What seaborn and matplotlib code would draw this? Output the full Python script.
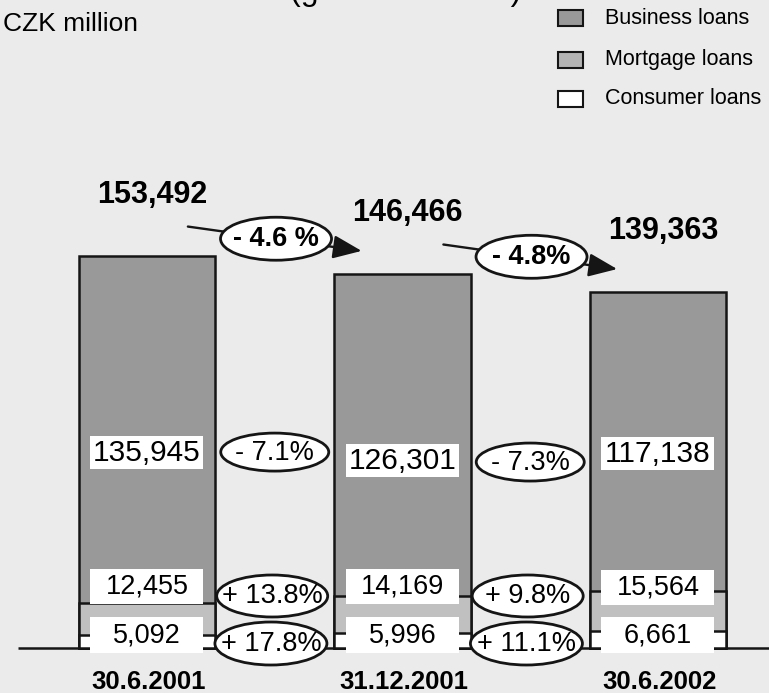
import matplotlib
matplotlib.use("Agg")
import matplotlib.pyplot as plt
from matplotlib.patches import Ellipse, Rectangle
import seaborn as sns

# Loan portfolio by segment, CZK million
dates = ["30.6.2001", "31.12.2001", "30.6.2002"]
business = [135945, 126301, 117138]
mortgage = [12455, 14169, 15564]
consumer = [5092, 5996, 6661]

# Period-on-period changes
total_change = ["- 4.6 %", "- 4.8%"]
business_change = ["- 7.1%", "- 7.3%"]
mortgage_change = ["+ 13.8%", "+ 9.8%"]
consumer_change = ["+ 17.8%", "+ 11.1%"]

series_names = ["Business loans", "Mortgage loans", "Consumer loans"]

totals = [b + m + c for b, m, c in zip(business, mortgage, consumer)]
lower_two = [m + c for m, c in zip(mortgage, consumer)]

BG = "#ebebeb"
EDGE = "#151515"
C_BUS = "#999999"
C_MORT = "#c0c0c0"
C_CONS = "#ffffff"

sns.set_style("white")
plt.rcParams["font.family"] = ["Liberation Sans", "DejaVu Sans"]

W, H = 769, 693
fig = plt.figure(figsize=(W / 100, H / 100), dpi=100, facecolor=BG)
ax = fig.add_axes([0, 0, 1, 1])
ax.set_facecolor(BG)

# scale: one pixel of height in CZK million, and bar spacing in pixels
vpp = 391.5
step = 255.5
bar_w = 0.536

# stacked bars drawn as overlapping cumulative bars
for vals, col in [(totals, C_BUS), (lower_two, C_MORT), (consumer, C_CONS)]:
    sns.barplot(x=dates, y=vals, color=col, saturation=1, width=bar_w,
                edgecolor=EDGE, linewidth=1.8, errorbar=None, ax=ax, zorder=2)

x0 = -147 / step
x1 = (W - 147) / step
ax.set_xlim(x0, x1)
ax.set_ylim(-45 * vpp, 648 * vpp)
ax.axis("off")

# baseline
ax.plot([x0 + 18 / step, x1], [0, 0], color=EDGE, lw=1.8, zorder=1.8,
        solid_capstyle="butt")

# value boxes inside the bars
box_w = 113 / step
label_rows = [
    (business, [76700, 73600, 76300], 33 * vpp, 21.5),
    (mortgage, [24270, 24270, 23800], 35 * vpp, 19.5),
    (consumer, [5090, 5090, 5090], 36 * vpp, 19.5),
]
for vals, ys, bh, fs in label_rows:
    for i, (v, yc) in enumerate(zip(vals, ys)):
        ax.add_patch(Rectangle((i - box_w / 2, yc - bh / 2), box_w, bh,
                               facecolor="white", edgecolor="none", zorder=4))
        ax.text(i, yc - 0.6 * vpp, f"{v:,}", ha="center", va="center",
                fontsize=fs, color="black", zorder=5)

# totals above the bars
for i, t in enumerate(totals):
    ax.text(i + 0.02, t + 24000, f"{t:,}", ha="center", va="center",
            fontsize=22, fontweight="bold", color="black", zorder=5)

# category labels
for i, d in enumerate(dates):
    ax.text(i + 0.005, -34 * vpp, d, ha="center", va="center",
            fontsize=18.5, fontweight="bold", color="black", zorder=5)


def bubble(xc, yc, w_px, h_px, txt, fs, weight="normal"):
    ax.add_patch(Ellipse((xc, yc), w_px / step, h_px * vpp,
                         facecolor="white", edgecolor=EDGE, lw=2.0, zorder=4))
    ax.text(xc, yc - 0.5 * vpp, txt, ha="center", va="center",
            fontsize=fs, fontweight=weight, color="black", zorder=5)


# arrows with total change between bars
for i, txt in enumerate(total_change):
    xs, xe = i + 0.16, i + 0.84
    ys, ye = totals[i] + 11500, totals[i + 1] + 9000
    ax.annotate("", xy=(xe, ye), xytext=(xs, ys),
                arrowprops=dict(arrowstyle="-|>,head_length=1.1,head_width=0.45",
                                mutation_scale=16, lw=1.7, color=EDGE,
                                shrinkA=0, shrinkB=0),
                zorder=3)
    t = (i + 0.5 - xs) / (xe - xs)
    yc = ys + t * (ye - ys)
    bubble(i + 0.505, yc, 111, 43, txt, 19.5, "bold")

# segment change bubbles
business_bubble_y = [76700, 72800]
for i, txt in enumerate(business_change):
    bubble(i + 0.5, business_bubble_y[i], 108, 38, txt, 19.5)
for i, txt in enumerate(mortgage_change):
    bubble(i + 0.49, 20360, 111, 42, txt, 19.5)
for i, txt in enumerate(consumer_change):
    bubble(i + 0.485, 1760, 112, 43, txt, 19.5)


def fx(px):
    return px / W


def fy(py):
    return 1 - py / H


# header texts (heading runs off the top edge)
fig.text(fx(406), fy(0), "(gross amounts)", ha="center", va="baseline",
         fontsize=23, color="black")
fig.text(fx(3), fy(24), "CZK million", ha="left", va="center",
         fontsize=19, color="black")

# legend
leg_cols = [C_BUS, "#b4b4b4", C_CONS]
leg_rows = [18, 60, 99]
for name, col, ry in zip(series_names, leg_cols, leg_rows):
    fig.patches.append(Rectangle((fx(558), fy(ry + 8)), fx(25), 16 / H,
                                 transform=fig.transFigure, facecolor=col,
                                 edgecolor=EDGE, lw=1.5))
    fig.text(fx(605), fy(ry), name, ha="left", va="center",
             fontsize=15.5, color="black")

fig.savefig("out.png", dpi=100, facecolor=BG)
